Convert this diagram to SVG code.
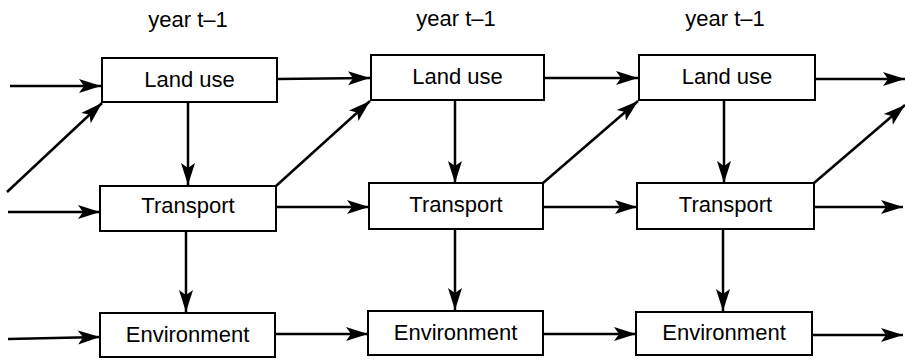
<svg xmlns="http://www.w3.org/2000/svg" width="905" height="360" viewBox="0 0 905 360">
<style>
.box{fill:#fff;stroke:#000;stroke-width:2}
.lbl{font-family:"Liberation Sans",Arial,sans-serif;font-size:22px;fill:#000;text-anchor:middle}
.c{stroke:#000;stroke-width:2.5;fill:none;marker-end:url(#ah)}
</style>
<defs>
<marker id="ah" markerUnits="userSpaceOnUse" markerWidth="24" markerHeight="16" refX="22" refY="8" orient="auto" viewBox="0 0 24 16">
<path d="M0,1 L22,8 L0,15 L5,8 z" fill="#000"/>
</marker>
</defs>
<rect width="905" height="360" fill="#fff"/>
<g id="years">
<text class="lbl" x="188" y="27">year t–1</text>
<text class="lbl" x="456" y="26">year t–1</text>
<text class="lbl" x="725" y="26">year t–1</text>
</g>
<g id="connectors">
<line class="c" x1="10" y1="86" x2="101" y2="86"/>
<line class="c" x1="277" y1="79" x2="370" y2="78"/>
<line class="c" x1="544" y1="78" x2="638" y2="78"/>
<line class="c" x1="815" y1="79" x2="905" y2="79"/>
<line class="c" x1="7" y1="192" x2="102" y2="103"/>
<line class="c" x1="276" y1="186" x2="370" y2="101"/>
<line class="c" x1="543" y1="183" x2="638" y2="101"/>
<line class="c" x1="814" y1="183" x2="905" y2="105"/>
<line class="c" x1="188" y1="102" x2="188" y2="185"/>
<line class="c" x1="186" y1="231" x2="186" y2="312"/>
<line class="c" x1="455" y1="100" x2="455" y2="183"/>
<line class="c" x1="455" y1="229" x2="455" y2="310"/>
<line class="c" x1="724" y1="100" x2="724" y2="183"/>
<line class="c" x1="723" y1="229" x2="723" y2="311"/>
<line class="c" x1="8" y1="212" x2="100" y2="212"/>
<line class="c" x1="276" y1="207" x2="369" y2="207"/>
<line class="c" x1="543" y1="207" x2="637" y2="207"/>
<line class="c" x1="814" y1="207" x2="903" y2="207"/>
<line class="c" x1="8" y1="339" x2="100" y2="337"/>
<line class="c" x1="275" y1="334" x2="368" y2="334"/>
<line class="c" x1="543" y1="334" x2="636" y2="334"/>
<line class="c" x1="812" y1="335" x2="903" y2="335"/>
</g>
<g id="landuse1"><rect class="box" x="102" y="58" width="175" height="44"/><text class="lbl" x="189.5" y="87">Land use</text></g>
<g id="transport1"><rect class="box" x="100" y="186" width="176" height="45"/><text class="lbl" x="188" y="213">Transport</text></g>
<g id="environment1"><rect class="box" x="100" y="313" width="175" height="44"/><text class="lbl" x="187.5" y="342">Environment</text></g>
<g id="landuse2"><rect class="box" x="371" y="55" width="173" height="45"/><text class="lbl" x="457.5" y="84">Land use</text></g>
<g id="transport2"><rect class="box" x="369" y="183" width="174" height="46"/><text class="lbl" x="456" y="212">Transport</text></g>
<g id="environment2"><rect class="box" x="368" y="311" width="175" height="44"/><text class="lbl" x="455.5" y="340">Environment</text></g>
<g id="landuse3"><rect class="box" x="639" y="55" width="176" height="45"/><text class="lbl" x="727" y="84">Land use</text></g>
<g id="transport3"><rect class="box" x="637" y="183" width="177" height="46"/><text class="lbl" x="725.5" y="212">Transport</text></g>
<g id="environment3"><rect class="box" x="636" y="312" width="176" height="43"/><text class="lbl" x="724" y="340">Environment</text></g>
</svg>
